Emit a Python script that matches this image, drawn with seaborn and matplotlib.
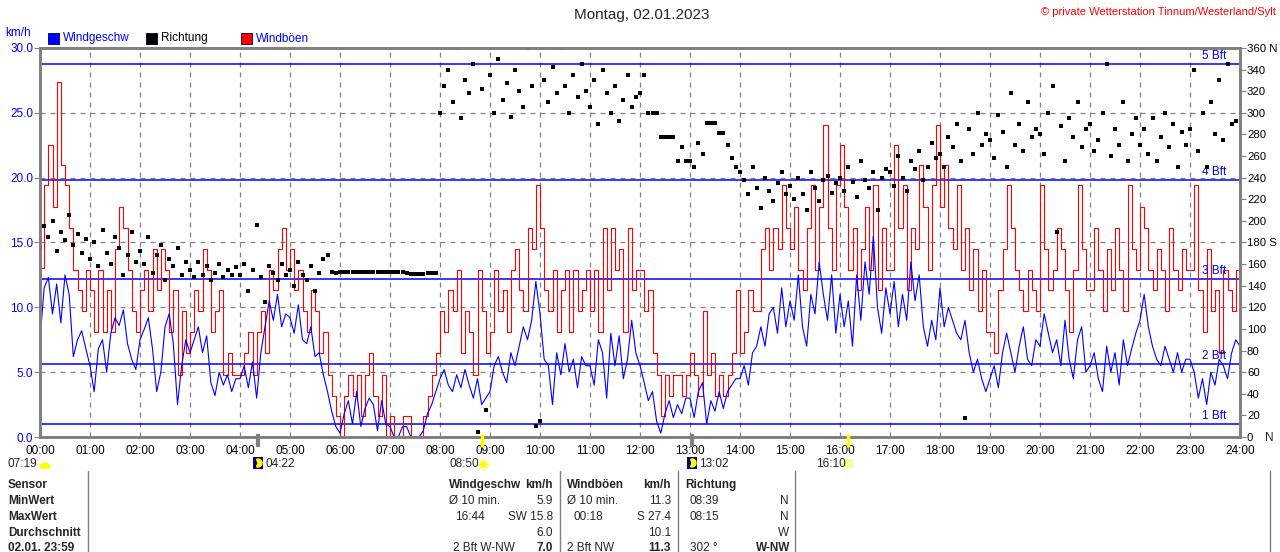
import numpy as np
import pandas as pd
import matplotlib
matplotlib.use('Agg')
import matplotlib.pyplot as plt
import matplotlib.patches as mpatches
import seaborn as sns

# 5-minute readings, one row per hour (00:00 ... 23:55), last value = 24:00
wind_speed = [
    7.5, 11.5, 12.3, 9.5, 11.8, 8.8, 12.5, 11.0, 6.2, 7.5, 8.2, 6.8,
    5.5, 3.5, 6.8, 7.5, 5.0, 8.0, 9.2, 8.6, 9.8, 7.2, 6.0, 5.2,
    7.5, 8.3, 9.2, 6.8, 3.5, 5.0, 8.5, 9.5, 7.2, 2.5, 5.5, 7.5,
    6.5, 7.5, 8.5, 6.5, 7.8, 4.2, 3.2, 5.0, 4.0, 4.8, 3.5, 4.5,
    4.5, 5.5, 3.8, 5.8, 3.0, 6.5, 8.5, 10.5, 9.0, 11.0, 8.5, 9.5,
    9.2, 8.0, 10.2, 7.5, 7.2, 8.5, 6.2, 6.5, 4.8, 3.5, 2.0, 0.8,
    0.3, 1.8, 2.8, 1.0, 3.5, 0.8, 2.2, 3.0, 2.5, 0.5, 2.8, 1.0,
    0.8, 0.0, 0.0, 0.8, 0.8, 0.0, 0.0, 0.0, 0.5, 1.8, 2.5, 3.5,
    4.5, 5.2, 4.0, 3.5, 4.8, 3.8, 5.2, 4.0, 3.0, 4.5, 2.5, 3.0,
    3.5, 5.5, 6.2, 5.0, 4.2, 6.5, 5.5, 7.0, 8.5, 7.5, 9.0, 12.0,
    9.5, 6.0, 5.5, 2.5, 6.5, 4.8, 7.2, 5.0, 6.0, 3.8, 6.2, 5.5,
    5.5, 4.0, 7.5, 6.5, 3.0, 8.0, 5.5, 7.8, 4.5, 6.0, 9.0, 6.5,
    5.5, 4.2, 2.8, 3.5, 1.2, 0.3, 1.8, 2.8, 1.5, 2.5, 1.8, 3.0,
    3.0, 1.5, 3.5, 4.2, 1.0, 2.8, 2.0, 3.5, 2.2, 3.5, 4.0, 4.5,
    4.5, 5.5, 4.0, 6.5, 7.0, 8.5, 7.0, 9.5, 10.0, 8.0, 11.5, 8.5,
    10.5, 9.0, 12.5, 8.5, 7.0, 11.0, 9.5, 13.5, 11.0, 9.0, 12.5, 8.0,
    11.0, 8.5, 10.5, 7.0, 12.5, 9.0, 13.5, 11.0, 15.5, 10.0, 8.0, 11.5,
    9.5, 12.0, 8.5, 11.0, 9.0, 13.5, 10.5, 12.5, 8.5, 7.0, 9.0, 7.5,
    11.5, 8.5, 10.0, 9.0, 8.0, 7.5, 9.0, 6.5, 5.0, 6.0, 4.5, 3.5,
    4.5, 5.5, 3.8, 6.5, 8.0, 6.5, 5.0, 7.0, 8.5, 6.0, 5.5, 7.5,
    7.0, 9.5, 8.0, 6.5, 7.5, 5.5, 9.0, 6.0, 4.5, 7.5, 8.5, 5.0,
    5.5, 6.5, 4.5, 3.5, 7.0, 5.0, 6.5, 4.0, 7.5, 5.5, 6.8, 8.0,
    9.0, 11.0, 8.5, 7.0, 6.0, 5.5, 7.0, 6.0, 5.0, 6.5, 5.0, 6.0,
    6.0, 5.0, 3.0, 4.5, 2.5, 5.0, 4.0, 6.0, 5.5, 4.5, 6.5, 7.5,
    7.0,
]

wind_gust = [
    13.0, 19.4, 22.5, 17.7, 27.4, 21.0, 19.4, 16.1, 12.9, 11.3, 9.7, 12.9,
    11.3, 8.1, 12.9, 8.1, 11.3, 8.1, 14.5, 17.7, 16.1, 12.9, 9.7, 8.1,
    11.3, 12.9, 9.7, 14.5, 11.3, 14.5, 12.9, 8.1, 11.3, 4.8, 9.7, 6.5,
    8.1, 11.3, 9.7, 14.5, 12.9, 8.1, 9.7, 11.3, 4.8, 6.5, 4.8, 4.8,
    4.8, 6.5, 8.1, 4.8, 8.1, 9.7, 6.5, 12.9, 11.3, 14.5, 16.1, 12.9,
    14.5, 11.3, 12.9, 9.7, 8.1, 11.3, 9.7, 6.5, 8.1, 4.8, 3.2, 1.6,
    0.0, 3.2, 4.8, 3.2, 4.8, 1.6, 4.8, 6.5, 3.2, 1.6, 4.8, 0.0,
    1.6, 0.0, 0.0, 1.6, 1.6, 0.0, 0.0, 0.0, 1.6, 3.2, 4.8, 6.5,
    9.7, 8.1, 11.3, 9.7, 12.9, 6.5, 9.7, 8.1, 4.8, 12.9, 9.7, 6.5,
    8.1, 12.9, 9.7, 11.3, 8.1, 12.9, 14.5, 11.3, 9.7, 16.1, 14.5, 19.4,
    16.1, 11.3, 9.7, 12.9, 8.1, 11.3, 12.9, 8.1, 12.9, 9.7, 11.3, 12.9,
    9.7, 12.9, 8.1, 16.1, 11.3, 16.1, 12.9, 14.5, 8.1, 16.1, 11.3, 12.9,
    12.9, 9.7, 11.3, 6.5, 4.8, 1.6, 4.8, 3.2, 4.8, 4.8, 3.2, 4.8,
    6.5, 4.8, 3.2, 9.7, 4.8, 6.5, 3.2, 4.8, 3.2, 4.8, 6.5, 11.3,
    6.5, 8.1, 11.3, 9.7, 9.7, 14.5, 16.1, 12.9, 16.1, 14.5, 19.4, 16.1,
    14.5, 17.7, 12.9, 11.3, 16.1, 19.4, 12.9, 17.7, 24.1, 16.1, 12.9, 19.4,
    22.5, 17.7, 12.9, 16.1, 11.3, 14.5, 17.7, 12.9, 19.4, 11.3, 16.1, 12.9,
    12.9, 22.5, 16.1, 19.4, 11.3, 16.1, 14.5, 21.0, 17.7, 12.9, 19.4, 24.1,
    17.7, 21.0, 16.1, 14.5, 19.4, 12.9, 16.1, 11.3, 14.5, 9.7, 12.9, 8.1,
    8.1, 6.5, 11.3, 14.5, 19.4, 16.1, 12.9, 11.3, 9.7, 12.9, 11.3, 9.7,
    19.4, 14.5, 11.3, 12.9, 16.1, 14.5, 11.3, 8.1, 12.9, 19.4, 14.5, 11.3,
    11.3, 16.1, 12.9, 9.7, 14.5, 11.3, 16.1, 12.9, 9.7, 19.4, 14.5, 12.9,
    17.7, 16.1, 12.9, 11.3, 14.5, 12.9, 9.7, 16.1, 12.9, 11.3, 14.5, 12.9,
    12.9, 19.4, 11.3, 8.1, 14.5, 9.7, 11.3, 6.5, 12.9, 11.3, 9.7, 12.9,
    11.3,
]

# wind direction in degrees, 5-minute readings (00:00 ... 23:55)
wind_dir = [
    175, 195, 185, 200, 172, 190, 182, 205, 178, 188, 170, 183,
    165, 180, 158, 192, 170, 160, 185, 175, 150, 168, 190, 162,
    172, 160, 185, 152, 168, 178, 145, 165, 158, 175, 150, 162,
    155, 148, 162, 150, 158, 145, 152, 160, 148, 155, 150, 157,
    150, 160, 135, 155, 196, 148, 125, 158, 152, 145, 160, 150,
    155, 140, 162, 150, 145, 158, 135, 152, 165, 168, 153, 152,
    153, 153, 153, 153, 153, 153, 153, 153, 153, 153, 153, 153,
    153, 153, 153, 153, 152, 151, 151, 151, 151, 152, 152, 152,
    300, 325, 340, 310, 360, 295, 330, 318, 345, 5, 322, 25,
    335, 300, 350, 312, 328, 296, 340, 320, 305, 360, 325, 10,
    15, 330, 310, 342, 318, 360, 325, 300, 335, 315, 345, 320,
    305, 330, 290, 340, 318, 300, 325, 292, 312, 335, 305, 315,
    318, 335, 300, 300, 300, 278, 278, 278, 278, 255, 268, 255,
    255, 250, 272, 262, 291, 291, 291, 281, 281, 270, 258, 250,
    245, 238, 225, 250, 230, 212, 240, 228, 218, 235, 245, 225,
    232, 220, 240, 225, 210, 245, 230, 218, 238, 242, 226, 235,
    240, 228, 250, 236, 222, 255, 238, 230, 245, 210, 240, 248,
    245, 232, 260, 240, 228, 255, 248, 265, 238, 250, 272, 258,
    262, 250, 278, 268, 290, 255, 18, 285, 262, 300, 270, 280,
    275, 258, 298, 282, 250, 318, 270, 290, 265, 310, 278, 285,
    280, 262, 300, 325, 190, 288, 255, 295, 278, 310, 268, 285,
    290, 265, 275, 300, 345, 260, 285, 270, 310, 255, 280, 295,
    270, 285, 262, 295, 255, 278, 300, 268, 290, 250, 282, 270,
    285, 340, 265, 300, 250, 310, 280, 330, 275, 345, 290, 292,
]

hour_labels = ['%02d:00' % h for h in range(25)]
bft_levels = [1.0, 5.6, 12.2, 19.8, 28.8]
bft_names = ['1 Bft', '2 Bft', '3 Bft', '4 Bft', '5 Bft']
dir_ticks = list(range(0, 361, 20))
dir_labels = ['0' if d == 0 else '180 S' if d == 180 else '360 N' if d == 360 else str(d)
              for d in dir_ticks]

df = pd.DataFrame({'hour': np.arange(0, 24 * 60 + 1, 5) / 60,
                   'speed': wind_speed, 'gust': wind_gust})
df_dir = pd.DataFrame({'hour': np.arange(0, 24 * 60, 5) / 60, 'dir': wind_dir})

sns.set_style('white')
plt.rcParams['font.family'] = ['Liberation Sans', 'DejaVu Sans']
plt.rcParams['font.size'] = 8

GRAY = '#808080'
BLUE = '#0000ff'

fig = plt.figure(figsize=(12.8, 5.52), dpi=100)
ax = fig.add_axes([40 / 1280, 1 - 437 / 552, 1200 / 1280, 389 / 552])

# grid + Beaufort lines
ax.grid(True, ls=(0, (4, 4)), color=GRAY, lw=0.9)
for v, name in zip(bft_levels, bft_names):
    ax.axhline(v, color=BLUE, lw=1.1, zorder=1.5)
    ax.text(23.72, v + 0.15, name, color=BLUE, ha='right', va='bottom', fontsize=8.5)

sns.lineplot(data=df, x='hour', y='gust', ax=ax, color='#ff0000', lw=0.8,
             drawstyle='steps-post', estimator=None, legend=False)
sns.lineplot(data=df, x='hour', y='speed', ax=ax, color=BLUE, lw=0.8,
             estimator=None, legend=False)

ax.set_xlim(0, 24)
ax.set_ylim(0, 30)
ax.set_xticks(range(25))
ax.set_xticklabels(hour_labels)
ax.set_yticks(range(0, 31, 5))
ax.set_yticklabels(['%.1f' % v for v in range(0, 31, 5)])
ax.set_xlabel('')
ax.set_ylabel('')
ax.tick_params(axis='x', length=3, color=GRAY, labelcolor='black', labelsize=8.5, pad=3)
ax.tick_params(axis='y', length=4, color=GRAY, labelcolor=BLUE, labelsize=8.5, pad=1)
for s in ax.spines.values():
    s.set_color(GRAY)
    s.set_linewidth(2)

ax2 = ax.twinx()
sns.scatterplot(data=df_dir, x='hour', y='dir', ax=ax2, color='black', marker='s',
                s=6, linewidth=0, legend=False)
ax2.set_ylim(0, 360)
ax2.set_yticks(dir_ticks)
ax2.set_yticklabels(dir_labels)
ax2.set_ylabel('')
ax2.tick_params(axis='y', length=4, color=GRAY, labelcolor='black', labelsize=8.2, pad=1)
for s in ax2.spines.values():
    s.set_color(GRAY)
    s.set_linewidth(2)

# overlay in pixel coordinates for header, icons and table
ov = fig.add_axes([0, 0, 1, 1])
ov.set_xlim(0, 1280)
ov.set_ylim(552, 0)
ov.axis('off')

ov.text(642, 15, 'Montag, 02.01.2023', ha='center', va='center', fontsize=11)
ov.text(1276, 12, '\u00a9 private Wetterstation Tinnum/Westerland/Sylt', color='#ff0000',
        ha='right', va='center', fontsize=8)
ov.text(5, 33, 'km/h', color=BLUE, va='center', fontsize=8.5)
for x0, col, label, tcol in [(48, BLUE, 'Windgeschw', BLUE), (146, 'black', 'Richtung', 'black'),
                             (241, '#ff0000', 'Windb\u00f6en', BLUE)]:
    ov.add_patch(mpatches.Rectangle((x0, 33), 11, 11, facecolor=col, edgecolor='#000040', lw=0.6))
    ov.text(x0 + 15, 38.5, label, color=tcol, va='center', fontsize=8.5)
ov.text(1265, 438, 'N', va='center', fontsize=8.5)

# sun / moon events
for x, col, lw in [(258, GRAY, 3), (692, GRAY, 3), (482, '#ffff00', 2.5), (848, '#ffff00', 2.5)]:
    ov.plot([x, x], [434, 447], color=col, lw=lw, solid_capstyle='butt')
ov.text(8, 464, '07:19', va='center', fontsize=8.5)
ov.add_patch(mpatches.Wedge((45, 468), 5, 180, 360, color='#ffff00'))
for x in (253, 687):
    ov.add_patch(mpatches.Rectangle((x, 457), 10, 12, facecolor='#000080', edgecolor='none'))
    ov.add_patch(mpatches.Wedge((x + 5, 463), 4, 250, 110, color='#ffff00'))
ov.text(265, 464, '04:22', va='center', fontsize=8.5)
ov.text(699, 464, '13:02', va='center', fontsize=8.5)
ov.text(449, 464, '08:50', va='center', fontsize=8.5)
ov.plot([483], [464], marker='o', ms=4, color='#ffff00')
ov.plot([483], [464], marker='+', ms=9, mew=0.8, color='#ffff00')
ov.plot([483], [464], marker='x', ms=6, mew=0.8, color='#ffff00')
ov.text(816, 464, '16:10', va='center', fontsize=8.5)
ov.add_patch(mpatches.Rectangle((845, 460), 6, 6, facecolor='none', edgecolor='#ffff00', lw=1))

# summary table
for x in (88, 560, 678, 795, 1270):
    ov.plot([x, x], [471, 552], color=GRAY, lw=1)
rows_y = [485, 501, 517, 533, 548]
for y, t in zip(rows_y, ['Sensor', 'MinWert', 'MaxWert', 'Durchschnitt', '02.01. 23:59']):
    ov.text(8, y, t, va='center', fontweight='bold', fontsize=8.5)
cells = [
    (449, 485, 'Windgeschw', 'left', True), (553, 485, 'km/h', 'right', True),
    (449, 501, '\u00d8 10 min.', 'left', False), (553, 501, '5.9', 'right', False),
    (455, 517, '16:44', 'left', False), (553, 517, 'SW 15.8', 'right', False),
    (553, 533, '6.0', 'right', False),
    (453, 548, '2 Bft W-NW', 'left', False), (553, 548, '7.0', 'right', True),
    (567, 485, 'Windb\u00f6en', 'left', True), (671, 485, 'km/h', 'right', True),
    (567, 501, '\u00d8 10 min.', 'left', False), (671, 501, '11.3', 'right', False),
    (574, 517, '00:18', 'left', False), (671, 517, 'S 27.4', 'right', False),
    (671, 533, '10.1', 'right', False),
    (567, 548, '2 Bft NW', 'left', False), (671, 548, '11.3', 'right', True),
    (685, 485, 'Richtung', 'left', True),
    (690, 501, '08:39', 'left', False), (789, 501, 'N', 'right', False),
    (690, 517, '08:15', 'left', False), (789, 517, 'N', 'right', False),
    (789, 533, 'W', 'right', False),
    (690, 548, '302 \u00b0', 'left', False), (790, 548, 'W-NW', 'right', True),
]
for x, y, t, ha, bold in cells:
    ov.text(x, y, t, ha=ha, va='center', fontsize=8.5,
            fontweight='bold' if bold else 'normal')

fig.savefig('out.png', dpi=100)
